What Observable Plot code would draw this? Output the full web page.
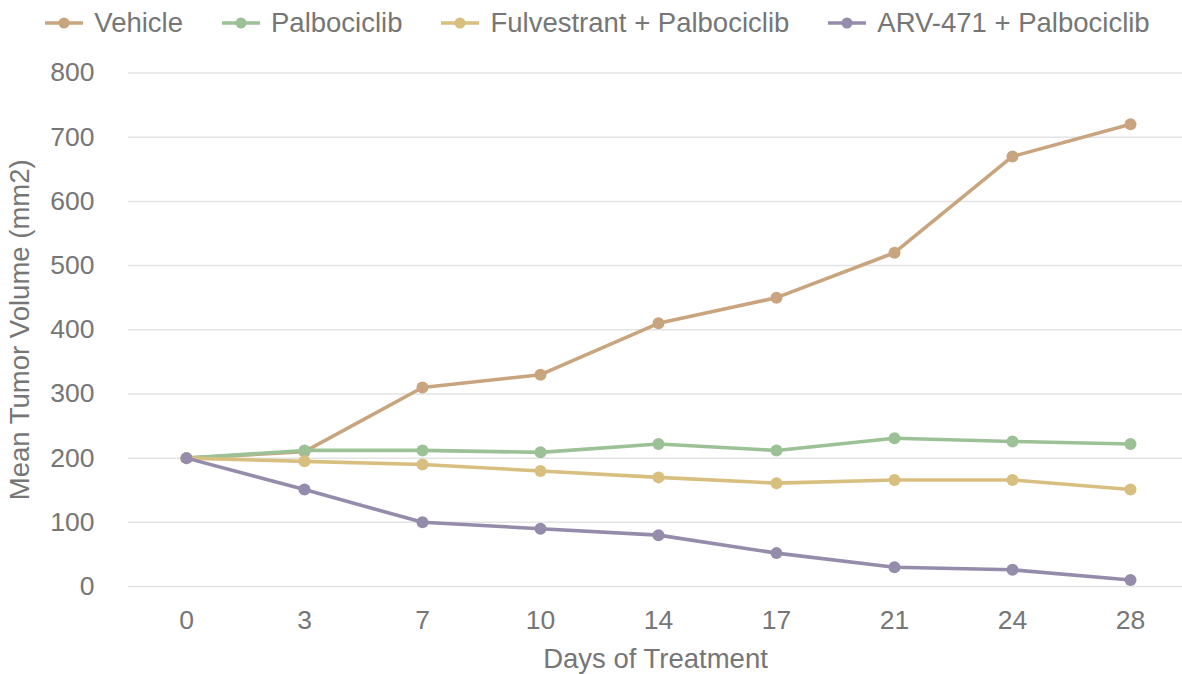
<!DOCTYPE html>
<html>
<head>
<meta charset="utf-8">
<script src="https://cdn.jsdelivr.net/npm/d3@7"></script>
<script src="https://cdn.jsdelivr.net/npm/@observablehq/plot@0.6"></script>
<style>
  html, body { margin: 0; padding: 0; background: #fff; }
  #wrap { width: 1182px; font-family: "Liberation Sans", Arial, sans-serif; }
  #legend { height: 45px; box-sizing: border-box; padding-left: 13px; display: flex; justify-content: center; align-items: center; gap: 39px; font-size: 27.5px; color: #767676; }
  .item { display: flex; align-items: center; }
  .item svg { margin-right: 11px; }
</style>
</head>
<body>
<div id="wrap">
  <div id="legend"></div>
  <div id="chart"></div>
</div>
<script>
const days = ["0", "3", "7", "10", "14", "17", "21", "24", "28"];
const seriesNames = ["Vehicle", "Palbociclib", "Fulvestrant + Palbociclib", "ARV-471 + Palbociclib"];
const seriesColors = ["#c9a57f", "#9dc197", "#d9bf7f", "#948caa"];
const vehicle = [200, 210, 310, 330, 410, 450, 520, 670, 720];
const palbociclib = [200, 212, 212, 209, 222, 212, 231, 226, 222];
const fulvestrantPalbociclib = [200, 195, 190, 180, 170, 161, 166, 166, 151];
const arvPalbociclib = [200, 151, 100, 90, 80, 52, 30, 26, 10];
const yTicks = [0, 100, 200, 300, 400, 500, 600, 700, 800];

const seriesValues = [vehicle, palbociclib, fulvestrantPalbociclib, arvPalbociclib];
const rows = seriesNames.flatMap((name, i) =>
  days.map((d, j) => ({ series: name, day: d, value: seriesValues[i][j] }))
);

// legend
const legend = document.getElementById("legend");
seriesNames.forEach((name, i) => {
  const item = document.createElement("div");
  item.className = "item";
  item.innerHTML = `<svg width="38" height="14"><line x1="0" x2="38" y1="7" y2="7" stroke="${seriesColors[i]}" stroke-width="3.5"/><circle cx="19" cy="7" r="5.5" fill="${seriesColors[i]}"/></svg><span>${name}</span>`;
  legend.appendChild(item);
});

const marks = [
  Plot.gridY(yTicks, { stroke: "#e3e3e3", strokeOpacity: 1, strokeWidth: 1.5 }),
  Plot.axisY(yTicks, { tickSize: 0, tickPadding: 34, fontSize: 26.5, fill: "#767676", label: null }),
  Plot.axisY({ ticks: [], tickSize: 0, fontSize: 27.5, fill: "#767676",
    label: "Mean Tumor Volume (mm2)", labelAnchor: "center", labelArrow: "none", labelOffset: 119 }),
  Plot.axisX({ tickSize: 0, tickPadding: 24, fontSize: 26.5, fill: "#767676", label: null }),
  Plot.axisX({ ticks: [], tickSize: 0, fontSize: 27.5, fill: "#767676",
    label: "Days of Treatment", labelAnchor: "center", labelArrow: "none", labelOffset: 81 })
];
seriesNames.forEach((name, i) => {
  const data = rows.filter(r => r.series === name);
  marks.push(Plot.line(data, { x: "day", y: "value", stroke: seriesColors[i], strokeWidth: 3.6, curve: "linear" }));
  marks.push(Plot.dot(data, { x: "day", y: "value", fill: seriesColors[i], r: 6, stroke: "none" }));
});

const chart = Plot.plot({
  width: 1182,
  height: 629,
  marginTop: 27.5,
  marginBottom: 88,
  marginLeft: 128,
  marginRight: 0,
  style: { fontFamily: "'Liberation Sans', Arial, sans-serif", fontSize: "26px", color: "#767676", background: "#fff", overflow: "visible" },
  x: { type: "point", domain: days, range: [184, 1132], padding: 0 },
  y: { domain: [0, 800] },
  marks
});
document.getElementById("chart").appendChild(chart);
</script>
</body>
</html>
